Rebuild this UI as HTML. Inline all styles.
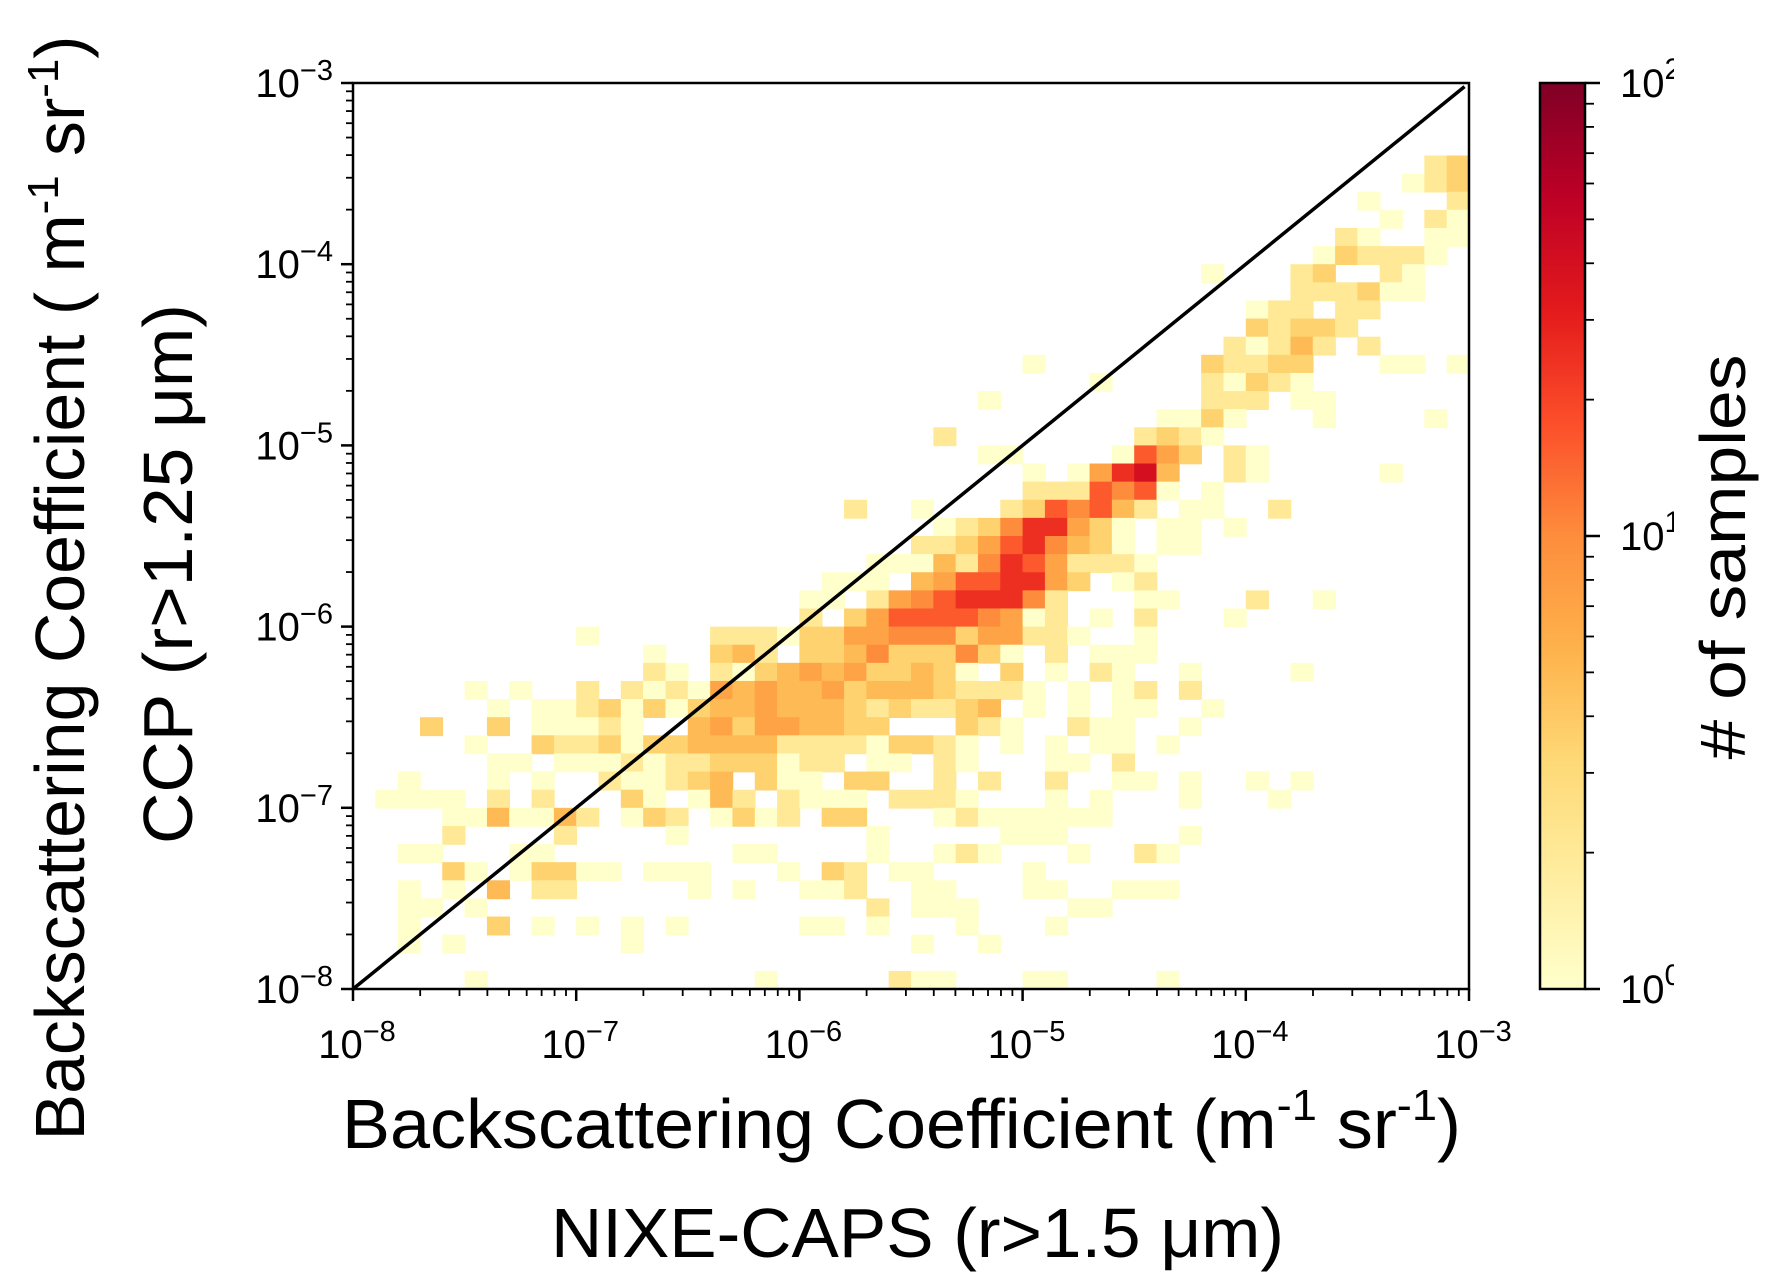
<!DOCTYPE html>
<html>
<head>
<meta charset="utf-8">
<style>
  html, body { margin: 0; padding: 0; background: #fff; }
  svg { display: block; }
  text { font-family: "Liberation Sans", Arial, sans-serif; fill: #000; }
</style>
</head>
<body>
<svg id="chart" width="1781" height="1287" viewBox="0 0 1781 1287" xmlns="http://www.w3.org/2000/svg">
  <defs>
    <linearGradient id="ylorrd" x1="0" y1="1" x2="0" y2="0">
      <stop offset="0" stop-color="#ffffcc"/>
      <stop offset="0.125" stop-color="#ffeda0"/>
      <stop offset="0.25" stop-color="#fed976"/>
      <stop offset="0.375" stop-color="#feb24c"/>
      <stop offset="0.5" stop-color="#fd8d3c"/>
      <stop offset="0.625" stop-color="#fc4e2a"/>
      <stop offset="0.75" stop-color="#e31a1c"/>
      <stop offset="0.875" stop-color="#bd0026"/>
      <stop offset="1" stop-color="#800026"/>
    </linearGradient>
    <clipPath id="plotClip"><rect x="353" y="83" width="1116" height="906"/></clipPath>
    <clipPath id="cbClip"><rect x="1530" y="40" width="144" height="1000"/></clipPath>
  </defs>
  <g id="cells" clip-path="url(#plotClip)"></g>
  <line id="oneToOne" stroke="#000" stroke-width="3.5"/>
  <rect x="353" y="83" width="1116" height="906" fill="none" stroke="#000" stroke-width="2.5"/>
  <g id="xTicks"></g>
  <g id="yTicks"></g>

  <text transform="translate(84,588) rotate(-90)" text-anchor="middle" font-size="70" textLength="1105" lengthAdjust="spacingAndGlyphs">Backscattering Coefficient ( m<tspan font-size="44" dy="-26">-1</tspan><tspan dy="26"> sr</tspan><tspan font-size="44" dy="-26">-1</tspan><tspan dy="26">)</tspan></text>
  <text transform="translate(192,574) rotate(-90)" text-anchor="middle" font-size="70" textLength="540" lengthAdjust="spacingAndGlyphs">CCP (r&gt;1.25 μm)</text>

  <text x="342" y="1148" font-size="70" textLength="1119" lengthAdjust="spacingAndGlyphs">Backscattering Coefficient (m<tspan font-size="44" dy="-28">-1</tspan><tspan dy="28"> sr</tspan><tspan font-size="44" dy="-28">-1</tspan><tspan dy="28">)</tspan></text>
  <text x="551" y="1257" font-size="70" textLength="733" lengthAdjust="spacingAndGlyphs">NIXE-CAPS (r&gt;1.5 μm)</text>

  <rect x="1540" y="83" width="45" height="906" fill="url(#ylorrd)" stroke="#000" stroke-width="2.5"/>
  <g id="cbTicks" clip-path="url(#cbClip)"></g>
  <text transform="translate(1745,557) rotate(-90)" text-anchor="middle" font-size="64" textLength="405" lengthAdjust="spacingAndGlyphs"># of samples</text>
</svg>

<script>
// ---- data ----
const xDecades = [-8, -7, -6, -5, -4, -3];
const yDecades = [-8, -7, -6, -5, -4, -3];
const xTickLabels = ["\u22128", "\u22127", "\u22126", "\u22125", "\u22124", "\u22123"];
const yTickLabels = ["\u22128", "\u22127", "\u22126", "\u22125", "\u22124", "\u22123"];
const cbDecades = [0, 1, 2];
const cbTickLabels = ["0", "1", "2"];
const binWidth = 0.1;
const codeKeys = ["1", "2", "3", "4", "5", "8", "a", "b", "c"];
const codeCounts = [1, 2, 3.5, 5, 7, 10, 16, 25, 40];
const rowCells = [
  "", "", "", "",
  "48:2 49:3",
  "47:1 48:2 49:3",
  "45:1 49:2",
  "46:1 48:2 49:1",
  "44:2 45:1 48:1 49:1",
  "43:1 44:3 45:2 46:2 47:2 48:1",
  "38:1 42:2 43:3 46:2 47:1",
  "42:2 43:2 44:2 45:3 46:1 47:1",
  "40:1 41:2 42:2 44:2 45:2",
  "40:3 41:2 42:3 43:3 44:2",
  "39:2 40:1 41:2 42:4 43:2 45:2",
  "30:1 38:3 39:2 40:2 41:3 42:3 46:1 47:1 49:1",
  "33:1 38:2 39:1 40:3 41:2 42:1",
  "28:1 38:2 39:2 40:2 42:1 43:1",
  "36:1 37:1 38:3 39:1 43:1 48:1",
  "26:2 35:2 36:3 37:2 38:1",
  "28:1 29:1 34:1 35:a 36:5 37:3 39:2 40:1",
  "30:1 32:1 33:5 34:b 35:c 36:4 39:2 40:1 46:1",
  "30:2 31:2 32:2 33:a 34:8 35:a 36:1 38:1",
  "22:2 25:1 29:2 30:3 31:a 32:8 33:a 34:4 35:2 37:1 38:1 41:2",
  "26:1 27:2 28:3 29:8 30:b 31:b 32:5 33:3 34:1 36:1 37:1 39:1",
  "25:2 26:2 27:3 28:5 29:a 30:b 31:8 32:4 33:3 34:1 36:1 37:1",
  "23:1 24:1 25:1 26:4 27:2 28:8 29:b 30:a 31:5 32:2 33:2 34:2 35:1",
  "21:1 22:1 23:1 25:4 26:5 27:a 28:a 29:b 30:b 31:5 32:3 34:1 35:2",
  "20:1 21:1 23:2 24:5 25:8 26:a 27:b 28:b 29:b 30:8 31:2 35:1 36:1 40:2 43:1",
  "20:2 22:3 23:5 24:a 25:a 26:a 27:a 28:8 29:5 30:1 31:2 33:1 35:2 39:1",
  "10:1 16:2 17:2 18:2 19:1 20:3 21:3 22:5 23:5 24:8 25:8 26:8 27:3 28:5 29:5 30:2 31:2 32:1 35:1",
  "13:1 16:3 17:4 18:2 20:3 21:3 22:4 23:8 24:3 25:3 26:3 27:8 28:3 29:1 31:2 33:1 34:1 35:1",
  "13:2 14:1 16:2 17:1 18:3 19:4 20:5 21:4 22:5 23:3 24:3 25:4 26:3 27:1 29:3 31:1 33:2 34:1 37:1 42:1",
  "5:1 7:1 10:2 12:2 13:1 14:2 15:1 16:5 17:4 18:5 19:4 20:4 21:5 22:3 23:4 24:4 25:4 26:3 27:2 28:2 29:2 30:1 32:1 34:1 35:2 37:2",
  "6:1 8:1 9:1 10:2 11:3 12:1 13:3 14:1 15:3 16:4 17:4 18:5 19:4 20:4 21:4 22:3 23:2 24:3 25:2 26:2 27:3 28:4 30:1 32:1 34:1 35:1 38:1",
  "3:3 6:3 8:1 9:1 10:1 11:2 12:1 15:4 16:5 17:3 18:5 19:5 20:4 21:4 22:3 23:3 27:3 28:2 29:1 32:2 33:1 34:1 37:1",
  "5:1 8:3 9:2 10:2 11:3 12:1 13:3 14:3 15:4 16:4 17:4 18:4 19:2 20:2 21:2 22:2 23:1 24:3 25:3 26:2 27:1 29:1 31:1 33:1 34:1 36:1",
  "6:1 7:1 9:1 10:1 11:1 12:2 13:1 14:2 15:2 16:3 17:3 18:3 19:1 20:2 21:2 23:1 24:1 26:2 27:1 31:1 32:1 34:2",
  "2:1 6:1 8:1 11:2 12:1 13:1 14:2 15:3 16:4 18:3 19:1 20:1 22:3 23:3 26:2 28:2 31:2 34:1 35:1 37:1 40:1 42:1",
  "1:1 2:1 3:1 4:1 6:2 8:2 12:3 13:1 15:1 16:4 17:2 19:2 20:1 21:1 22:1 24:2 25:2 26:2 27:1 31:1 33:1 37:1 41:1",
  "4:1 5:1 6:4 7:1 8:1 9:4 10:2 12:1 13:3 14:2 16:1 17:3 18:1 19:2 21:3 22:3 26:1 27:2 28:1 29:1 30:1 31:1 32:1 33:1",
  "4:2 9:2 14:1 23:1 29:1 30:1 31:1 37:1",
  "2:1 3:1 7:1 8:1 17:1 18:1 23:1 26:1 27:2 28:1 32:1 35:2 36:1",
  "4:3 5:1 7:1 8:3 9:3 10:1 11:1 13:1 14:1 15:1 19:1 21:3 22:2 24:1 25:1 30:1",
  "2:1 4:1 6:4 8:2 9:2 15:1 17:1 20:1 21:1 22:2 25:1 26:1 30:1 31:1 34:1 35:1 36:1",
  "2:1 3:1 5:1 23:2 25:1 26:1 27:1 32:1 33:1",
  "2:1 6:3 8:1 10:1 12:1 14:1 20:1 21:1 23:1 27:1 31:1",
  "2:1 4:1 12:1 25:1 28:1",
  "",
  "5:1 18:1 24:2 25:1 26:1 30:1 31:1 36:1"
];

// ---- scales ----
const X0 = 353, X1 = 1469, Y0 = 989, Y1 = 83;
const LMIN = -8, LMAX = -3;
function xs(L) { return X0 + (L - LMIN) / (LMAX - LMIN) * (X1 - X0); }
function ys(L) { return Y0 - (L - LMIN) / (LMAX - LMIN) * (Y0 - Y1); }
const CB_Y0 = 989, CB_Y1 = 83;
function cbs(L) { return CB_Y0 - L / 2 * (CB_Y0 - CB_Y1); }

const stops = ["#ffffcc","#ffeda0","#fed976","#feb24c","#fd8d3c","#fc4e2a","#e31a1c","#bd0026","#800026"];
function hex(c) { return [parseInt(c.substr(1,2),16), parseInt(c.substr(3,2),16), parseInt(c.substr(5,2),16)]; }
function colorFor(count) {
  let t = Math.log10(count) / 2;
  t = Math.max(0, Math.min(1, t));
  const p = t * (stops.length - 1);
  const i = Math.min(stops.length - 2, Math.floor(p));
  const f = p - i;
  const a = hex(stops[i]), b = hex(stops[i + 1]);
  return "rgb(" + a.map((v, k) => Math.round(v + (b[k] - v) * f)).join(",") + ")";
}

const NS = "http://www.w3.org/2000/svg";
function mk(tag, attrs) {
  const e = document.createElementNS(NS, tag);
  for (const k in attrs) e.setAttribute(k, attrs[k]);
  return e;
}

// ---- cells ----
const cellG = document.getElementById("cells");
rowCells.forEach((row, r) => {
  if (!row) return;
  row.split(" ").forEach(tok => {
    const parts = tok.split(":");
    const col = parseInt(parts[0], 10);
    const count = codeCounts[codeKeys.indexOf(parts[1])];
    const xl = LMIN + col * binWidth;
    const yTop = LMAX - r * binWidth;
    const rect = mk("rect", {
      x: xs(xl).toFixed(2),
      y: ys(yTop).toFixed(2),
      width: (xs(xl + binWidth) - xs(xl) + 0.8).toFixed(2),
      height: (ys(yTop - binWidth) - ys(yTop) + 0.8).toFixed(2),
      fill: colorFor(count)
    });
    
    
    cellG.appendChild(rect);
  });
});

// ---- 1:1 line ----
const ln = document.getElementById("oneToOne");
ln.setAttribute("x1", xs(-8)); ln.setAttribute("y1", ys(-8));
ln.setAttribute("x2", xs(-3.02)); ln.setAttribute("y2", ys(-3.02));

// ---- axes ticks ----
const xg = document.getElementById("xTicks");
const yg = document.getElementById("yTicks");
xDecades.forEach((d, i) => {
  const x = xs(d);
  const t = mk("line", { x1: x, y1: Y0, x2: x, y2: Y0 + 12, stroke: "#000", "stroke-width": 2.5 });
  
  
  xg.appendChild(t);
  const lab = mk("text", { x: x + 4, y: 1058, "text-anchor": "middle", "font-size": 40 });
  
  
  lab.appendChild(document.createTextNode("10"));
  const sup = mk("tspan", { dy: -17, "font-size": 29 });
  sup.textContent = xTickLabels[i];
  lab.appendChild(sup);
  xg.appendChild(lab);
  if (i < xDecades.length - 1) {
    for (let m = 2; m <= 9; m++) {
      const xm = xs(d + Math.log10(m));
      const mt = mk("line", { x1: xm, y1: Y0, x2: xm, y2: Y0 + 7, stroke: "#000", "stroke-width": 1.8 });
      
      
      xg.appendChild(mt);
    }
  }
});
yDecades.forEach((d, i) => {
  const y = ys(d);
  const t = mk("line", { x1: X0 - 12, y1: y, x2: X0, y2: y, stroke: "#000", "stroke-width": 2.5 });
  
  
  yg.appendChild(t);
  const lab = mk("text", { x: 333, y: y + 14, "text-anchor": "end", "font-size": 40 });
  
  
  lab.appendChild(document.createTextNode("10"));
  const sup = mk("tspan", { dy: -17, "font-size": 29 });
  sup.textContent = yTickLabels[i];
  lab.appendChild(sup);
  yg.appendChild(lab);
  if (i < yDecades.length - 1) {
    for (let m = 2; m <= 9; m++) {
      const ym = ys(d + Math.log10(m));
      const mt = mk("line", { x1: X0 - 7, y1: ym, x2: X0, y2: ym, stroke: "#000", "stroke-width": 1.8 });
      
      
      yg.appendChild(mt);
    }
  }
});

// ---- colorbar ticks ----
const cg = document.getElementById("cbTicks");
cbDecades.forEach((d, i) => {
  const y = cbs(d);
  const t = mk("line", { x1: 1585, y1: y, x2: 1600, y2: y, stroke: "#000", "stroke-width": 2.5 });
  
  
  cg.appendChild(t);
  const lab = mk("text", { x: 1620, y: y + 14, "font-size": 40 });
  
  
  lab.appendChild(document.createTextNode("10"));
  const sup = mk("tspan", { dy: -18, "font-size": 30 });
  sup.textContent = cbTickLabels[i];
  lab.appendChild(sup);
  cg.appendChild(lab);
  if (i < cbDecades.length - 1) {
    for (let m = 2; m <= 9; m++) {
      const ym = cbs(d + Math.log10(m));
      const mt = mk("line", { x1: 1585, y1: ym, x2: 1594, y2: ym, stroke: "#000", "stroke-width": 1.8 });
      
      
      cg.appendChild(mt);
    }
  }
});
</script>
</body>
</html>
